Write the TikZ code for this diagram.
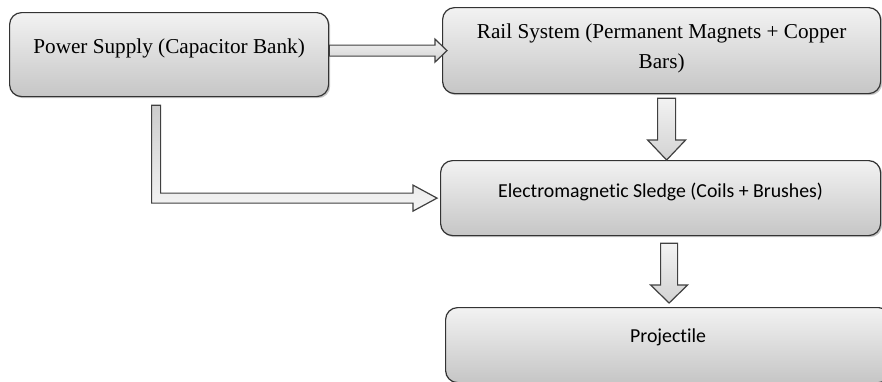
\documentclass[tikz,border=0pt]{standalone}
\usepackage{fontspec}
\setmainfont{Liberation Serif}
\newfontfamily\calibrifont[Ligatures=NoCommon]{Carlito}
\usetikzlibrary{calc,shadows}

\begin{document}
\begin{tikzpicture}[
    x=0.5pt, y=-0.5pt,
    box/.style={rectangle, rounded corners=6pt, anchor=north west, inner ysep=0pt, align=center,
        draw=black!80, line width=0.6pt, top color=gray!10, bottom color=gray!45,
        drop shadow={shadow xshift=0.8pt, shadow yshift=-0.8pt, opacity=0.45}},
    serif/.style={font=\fontsize{10.6}{15}\selectfont},
    calib/.style={font=\calibrifont\fontsize{9.9}{12}\selectfont},
    barrow/.style={draw=black!75, line width=0.6pt, top color=gray!10, bottom color=gray!35},
    larrow/.style={barrow, top color=gray!40, bottom color=gray!8}
]
\useasboundingbox (0,0) rectangle (882,381);

% Blocks
\node[box, serif, minimum width=159.5pt, text height=20.35pt, text depth=21.65pt] (ps) at (9,12) {Power Supply (Capacitor Bank)};
\node[box, serif, minimum width=219pt, text height=30.5pt, text depth=12.5pt] (rail) at (442,7) {Rail System (Permanent Magnets + Copper\\Bars)};
\node[box, calib, minimum width=220pt, text height=18.5pt, text depth=19pt] (sledge) at (440,160) {Electromagnetic Sledge (Coils + Brushes)};
\node[box, calib, minimum width=222.5pt, text height=17.5pt, text depth=20pt] (proj) at (445,307) {Projectile};

% Block arrows
\coordinate (a1) at (ps.east |- rail.west);
\coordinate (t1) at ($(rail.west)+(5,0)$);
\draw[barrow] ($(a1)+(0,-5.5)$) -- ($(t1)+(-12,-5.5)$) -- ($(t1)+(-12,-11.5)$) -- (t1)
    -- ($(t1)+(-12,11.5)$) -- ($(t1)+(-12,5.5)$) -- ($(a1)+(0,5.5)$) -- cycle;

\coordinate (a2) at ($(rail.south)+(5,4)$);
\coordinate (t2) at ($(sledge.north)+(6,0)$);
\draw[barrow] ($(a2)+(-9,0)$) -- ($(t2)+(-9,-20)$) -- ($(t2)+(-19,-20)$) -- (t2)
    -- ($(t2)+(19,-20)$) -- ($(t2)+(9,-20)$) -- ($(a2)+(9,0)$) -- cycle;

\coordinate (a3) at ($(sledge.south)+(8.5,7)$);
\coordinate (t3) at ($(proj.north)+(1,-4)$);
\draw[barrow] ($(a3)+(-8.5,0)$) -- ($(t3)+(-8.5,-18)$) -- ($(t3)+(-18.5,-18)$) -- (t3)
    -- ($(t3)+(18.5,-18)$) -- ($(t3)+(8.5,-18)$) -- ($(a3)+(8.5,0)$) -- cycle;

\coordinate (a4) at ($(ps.south)+(-13,8)$);
\coordinate (t4) at ($(sledge.west)+(-3,0)$);
\coordinate (c4) at (a4 |- t4);
\draw[larrow] ($(a4)+(-4.5,0)$) -- ($(c4)+(-4.5,5)$) -- ($(t4)+(-24,5)$) -- ($(t4)+(-24,13)$) -- (t4)
    -- ($(t4)+(-24,-13)$) -- ($(t4)+(-24,-5)$) -- ($(c4)+(4.5,-5)$) -- ($(a4)+(4.5,0)$) -- cycle;

\end{tikzpicture}
\end{document}
